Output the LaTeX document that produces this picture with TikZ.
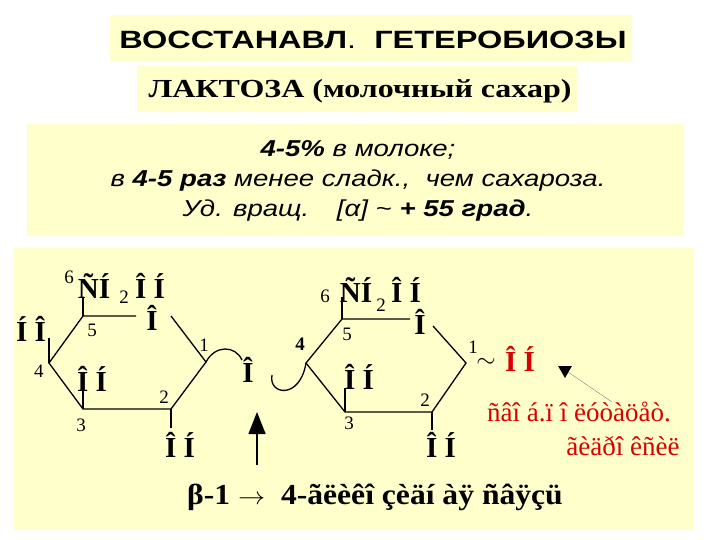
\documentclass[tikz,border=0pt]{standalone}
\usepackage{fontspec}
\setmainfont{Liberation Serif}
\newfontfamily\arl{Liberation Sans}
\usetikzlibrary{arrows.meta,shapes.geometric}
\definecolor{bg}{HTML}{FFFFCC}
\begin{document}
\begin{tikzpicture}[x=1pt,y=-1pt,
 bx/.style={fill=bg,draw=none},
 f/.style={font=\fontsize{29}{29}\selectfont\bfseries,inner sep=0},
 num/.style={font=\fontsize{19}{19}\selectfont,inner sep=0},
 bd/.style={line width=1.3pt},
 rd/.style={text=red!85!black}]
\useasboundingbox (0,0) rectangle (720,540);
\fill[white] (0,0) rectangle (720,540);
\fill[bx] (110,15) rectangle (632,62);
\fill[bx] (137,66) rectangle (578,112);
\fill[bx] (27,124) rectangle (684,236);
\fill[bx] (14,248) rectangle (694,530);
\node[font=\arl\fontsize{25}{25}\selectfont\bfseries,xscale=1.3] (t1) at (373,40) {ВОССТАНАВЛ{\mdseries.}\ \ ГЕТЕРОБИОЗЫ};
\node[font=\fontsize{26}{26}\selectfont\bfseries,xscale=1.23] (t2) at (360,91) {ЛАКТОЗА (молочный сахар)};
\node[align=center,font=\arl\fontsize{23}{30}\selectfont\itshape,xscale=1.2] (t3) at (358,181) {%
 {\bfseries 4-5\%} в молоке;\\ в {\bfseries 4-5 раз} менее сладк.,\ \ чем сахароза.\\ Уд. вращ.\quad [α] \textasciitilde{} {\bfseries + 55 град}.};
% left ring
\coordinate (a5) at (83,316); \coordinate (a4) at (49,363); \coordinate (a3) at (83,409);
\coordinate (a2) at (171,409); \coordinate (a1) at (206,362);
\coordinate (aoL) at (136,316); \coordinate (aoR) at (171,316);
\draw[bd] (aoL)--(a5)--(a4)--(a3)--(a2)--(a1)--(aoR);
\node[f] (ao) at (152,318) {Î};
\draw[bd] (a5)--(83,298); \draw[bd] (a4)--(49,338); \draw[bd] (a3)--(83,390); \draw[bd] (a2)--(171,428);
\node[f] (a6t) at (94,286) {ÑÍ}; \node[num] at (69,277) {6};
\node[num] at (124,297) {2}; \node[f] (a6o) at (150,286) {Î Í};
\node[f] (a4t) at (31,329) {Í Î};
\node[f] (a3t) at (92,379) {Î Í};
\node[f] (a2t) at (180,445) {Î Í};
\node[num] at (92,330) {5}; \node[num] at (39,371) {4}; \node[num] at (81,425) {3};
\node[num] at (164,397) {2}; \node[num] at (204,345) {1};
% bridge
\node[f] (bo) at (248,370) {Î};
\draw[bd] (a1) .. controls (215,345) and (235,345) .. (242,360);
\coordinate (b4) at (306,363);
\draw[bd] (272,375) .. controls (268,395) and (300,400) .. (b4);
\node[num,font=\fontsize{19}{19}\selectfont\bfseries] at (300,344) {4};
% right ring
\coordinate (c5) at (342,319); \coordinate (c3) at (345,412);
\coordinate (c2) at (432,412); \coordinate (c1) at (466,363);
\coordinate (coL) at (410,319); \coordinate (coR) at (433,326);
\draw[bd] (coL)--(c5)--(b4)--(c3)--(c2)--(c1)--(coR);
\node[f] (co) at (420,322) {Î};
\draw[bd] (c5)--(342,297); \draw[bd] (c3)--(345,388); \draw[bd] (c2)--(432,430);
\node[f] (c6t) at (356,290) {ÑÍ}; \node[num] at (325,296) {6};
\node[num] at (381,305) {2}; \node[f] (c6o) at (406,290) {Î Í};
\node[f] (c3t) at (359,377) {Î Í};
\node[f] (c2t) at (441,445) {Î Í};
\node[num] at (347,334) {5}; \node[num] at (349,423) {3};
\node[num] at (425,400) {2}; \node[num] at (473,347) {1};
\node[f] (tl) at (486,363) {$\sim$};
\node[f,rd] (red) at (520,359) {Î Í};
% note
\node[draw=none,fill=black,regular polygon,regular polygon sides=3,shape border rotate=180,minimum size=16pt,inner sep=0] (tri) at (565,370) {};
\coordinate (np) at (612,402);
\draw[gray] (np)--(tri);
\node[rd,inner sep=0,font=\fontsize{27}{27}\selectfont] (n1) at (579,412) {ñâî á.ï î ëóòàöåò.};
\node[rd,inner sep=0,font=\fontsize{27}{27}\selectfont] (n2) at (623,446) {ãèäðî êñèë};
% up arrow
\coordinate (ua) at (257,465); \coordinate (ub) at (257,412);
\draw[line width=1.5pt,-{Triangle[length=22pt,width=17pt]}] (ua)--(ub);
% bottom
\node[inner sep=0,font=\fontsize{29}{29}\selectfont\bfseries,anchor=west,xscale=1.09] (bot) at (187,497) {β-1\ $\rightarrow$\ \ 4-ãëèêî çèäí àÿ ñâÿçü};
\end{tikzpicture}
\end{document}
